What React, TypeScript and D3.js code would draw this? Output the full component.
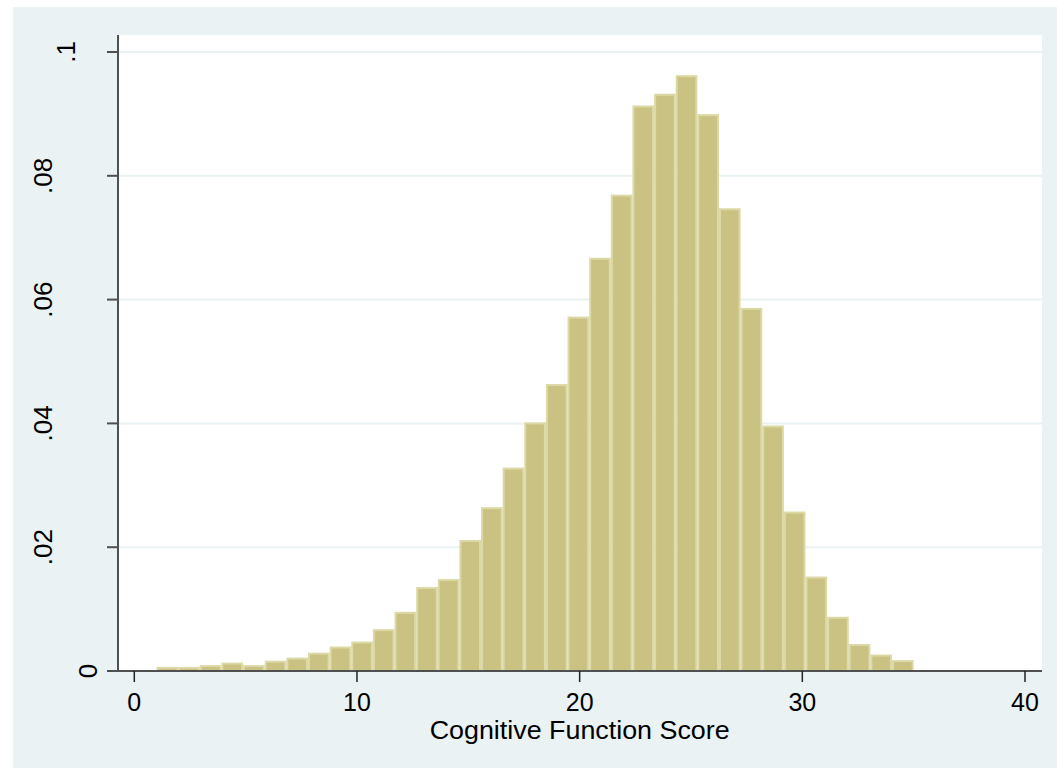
import React from 'react';
import * as d3 from 'd3';

// Histogram data: density per bin, bins span score 1..35 in 35 equal bins
const binStart = 1;
const binEnd = 35;
const densities = [
  0.0005, 0.0005, 0.0008, 0.0012, 0.0008, 0.0015, 0.0020, 0.0028, 0.0038, 0.0046,
  0.0066, 0.0094, 0.0134, 0.0147, 0.0210, 0.0263, 0.0327, 0.0400, 0.0462, 0.0571,
  0.0666, 0.0768, 0.0912, 0.0931, 0.0961, 0.0898, 0.0746, 0.0585, 0.0395, 0.0256,
  0.0151, 0.0086, 0.0042, 0.0025, 0.0016,
];
const xTicks = [0, 10, 20, 30, 40];
const yTicks = [0, 0.02, 0.04, 0.06, 0.08, 0.1];
const yTickLabels = ['0', '.02', '.04', '.06', '.08', '.1'];
const xTitle = 'Cognitive Function Score';

const FONT = '"Liberation Sans", Arial, Helvetica, sans-serif';

export default function App() {
  const W = 1057;
  const H = 768;
  const plotL = 118;
  const plotR = 1042;
  const plotT = 35;
  const plotB = 671;

  const x = d3.scaleLinear().domain([0, 40]).range([134.3, 1025]);
  const y = d3.scaleLinear().domain([0, 0.1]).range([plotB, 52]);
  const binW = (binEnd - binStart) / densities.length;

  const bins = densities.map((d, i) => ({
    x0: binStart + i * binW,
    x1: binStart + (i + 1) * binW,
    d,
  }));

  const axisColor = '#505050';

  return (
    <svg
      width={W}
      height={H}
      style={{ position: 'absolute', left: 0, top: 0, display: 'block' }}
      fontFamily={FONT}
    >
      <rect x={0} y={0} width={W} height={H} fill="#ffffff" />
      <rect x={13} y={7} width={W - 13} height={H - 7} fill="#EAF2F3" />
      <rect x={plotL} y={plotT} width={plotR - plotL} height={plotB - plotT} fill="#ffffff" />

      {/* grid lines */}
      {yTicks.filter((t) => t > 0).map((t) => (
        <line
          key={'g' + t}
          x1={plotL}
          x2={plotR}
          y1={y(t)}
          y2={y(t)}
          stroke="#EAF2F3"
          strokeWidth={2}
        />
      ))}

      {/* bars */}
      {bins.map((b, i) => (
        <rect
          key={i}
          x={x(b.x0) + 1}
          y={y(b.d)}
          width={x(b.x1) - x(b.x0) - 2}
          height={y(0) - y(b.d)}
          fill="#C9C283"
          stroke="#DDD9A6"
          strokeWidth={2}
        />
      ))}

      {/* y axis */}
      <line x1={plotL} x2={plotL} y1={plotT} y2={plotB + 1} stroke={axisColor} strokeWidth={2} />
      {yTicks.map((t, i) => (
        <g key={'yt' + t}>
          <line x1={107} x2={plotL} y1={y(t)} y2={y(t)} stroke={axisColor} strokeWidth={2} />
          <text
            transform={`translate(${97 - 22.5 * (yTickLabels[i].length - 1)},${y(t)}) rotate(-90)`}
            textAnchor="middle"
            fontSize={26}
            fill="#000"
          >
            {yTickLabels[i]}
          </text>
        </g>
      ))}

      {/* x axis */}
      <line x1={107} x2={plotR} y1={plotB} y2={plotB} stroke={axisColor} strokeWidth={2} />
      {xTicks.map((t) => (
        <g key={'xt' + t}>
          <line x1={x(t)} x2={x(t)} y1={plotB} y2={plotB + 11} stroke="#222" strokeWidth={1.5} />
          <text x={x(t)} y={711} textAnchor="middle" fontSize={25} fill="#000">
            {t}
          </text>
        </g>
      ))}
      <text
        x={x(20)}
        y={739}
        textAnchor="middle"
        fontSize={25}
        textLength={300}
        lengthAdjust="spacingAndGlyphs"
        fill="#000"
      >
        {xTitle}
      </text>
    </svg>
  );
}
